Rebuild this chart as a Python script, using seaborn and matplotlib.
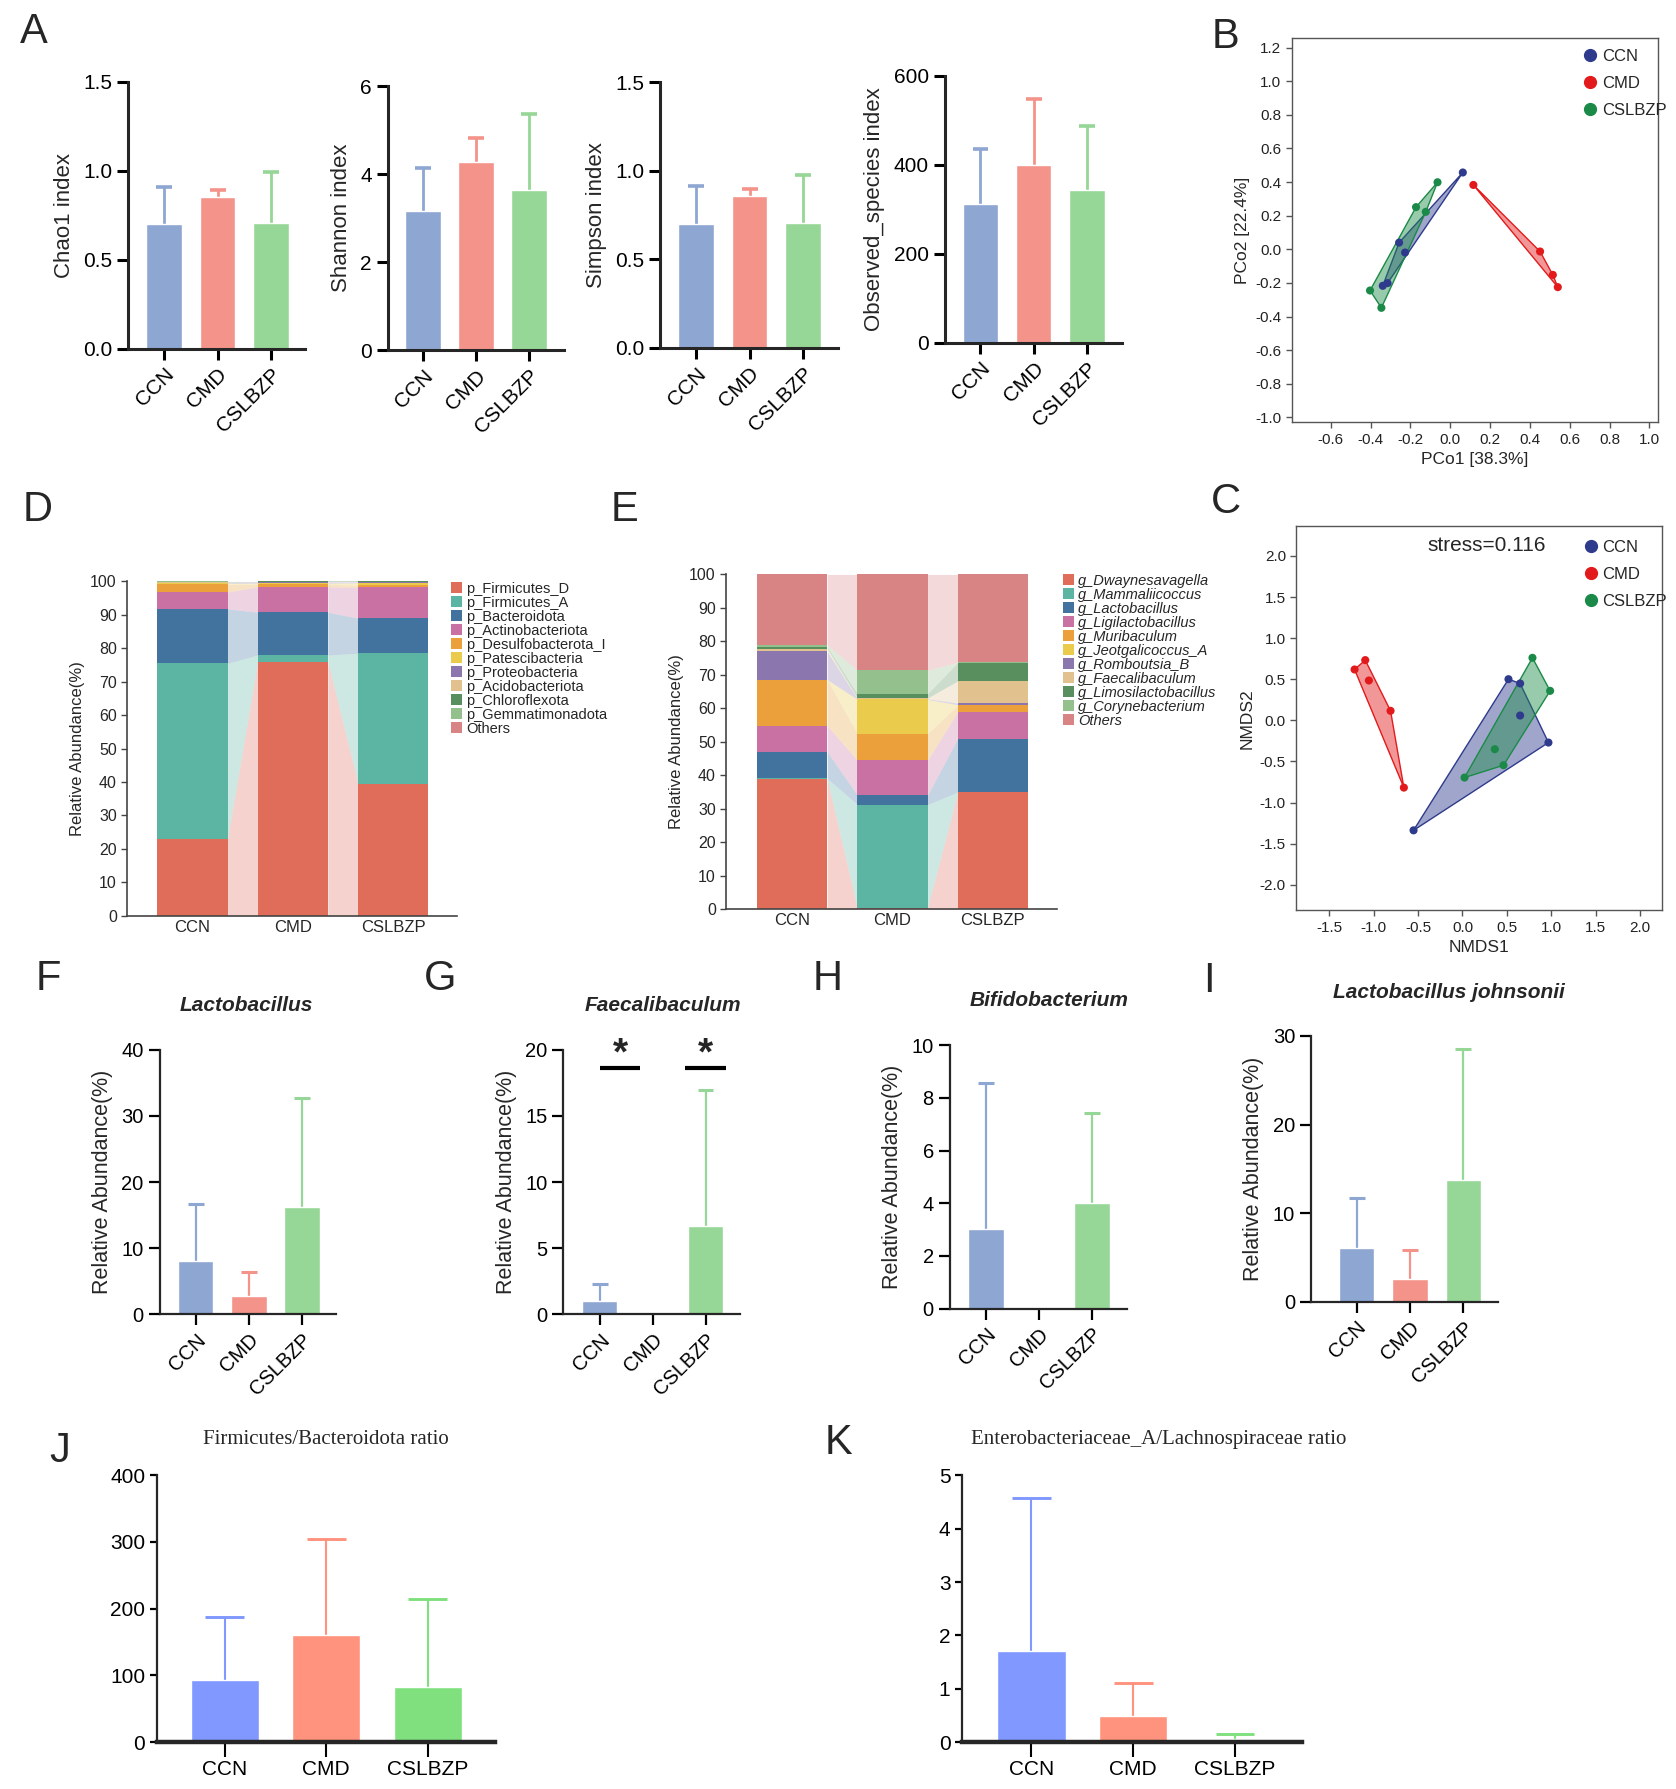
import numpy as np
import pandas as pd
import matplotlib
matplotlib.use('Agg')
import matplotlib.pyplot as plt
from matplotlib.patches import Patch, Polygon
from matplotlib.lines import Line2D
from matplotlib.colors import to_rgba
import seaborn as sns

# ---------------- data ----------------
groups = ['CCN', 'CMD', 'CSLBZP']

chao1_mean = [0.70, 0.853, 0.707]
chao1_upper = [0.906, 0.894, 0.99]
shannon_mean = [3.17, 4.27, 3.64]
shannon_upper = [4.13, 4.83, 5.37]
simpson_mean = [0.701, 0.856, 0.705]
simpson_upper = [0.912, 0.897, 0.978]
observed_mean = [311, 400, 343]
observed_upper = [435, 548, 488]

lacto_mean = [8.0, 2.82, 16.2]
lacto_upper = [16.75, 6.44, 32.7]
faecali_mean = [1.0, 0.0, 6.64]
faecali_upper = [2.26, 0.0, 16.98]
bifido_mean = [3.03, 0.04, 4.0]
bifido_upper = [8.57, 0.04, 7.41]
johnsonii_mean = [6.05, 2.52, 13.8]
johnsonii_upper = [11.77, 5.9, 28.53]

fb_ratio_mean = [93, 161, 82]
fb_ratio_upper = [187.5, 304, 214]
el_ratio_mean = [1.71, 0.49, 0.06]
el_ratio_upper = [4.57, 1.11, 0.15]

phylum_names = ['p_Firmicutes_D', 'p_Firmicutes_A', 'p_Bacteroidota', 'p_Actinobacteriota',
                'p_Desulfobacterota_I', 'p_Patescibacteria', 'p_Proteobacteria',
                'p_Acidobacteriota', 'p_Chloroflexota', 'p_Gemmatimonadota', 'Others']
phylum_ccn = [23.0, 52.5, 16.3, 5.0, 2.3, 0.3, 0.2, 0.1, 0.2, 0.1, 0.0]
phylum_cmd = [76.0, 2.0, 12.8, 7.6, 0.8, 0.3, 0.4, 0.05, 0.05, 0.0, 0.0]
phylum_cslbzp = [39.5, 39.0, 10.5, 9.2, 0.6, 0.8, 0.3, 0.05, 0.05, 0.0, 0.0]

genus_names = ['g_Dwaynesavagella', 'g_Mammaliicoccus', 'g_Lactobacillus', 'g_Ligilactobacillus',
               'g_Muribaculum', 'g_Jeotgalicoccus_A', 'g_Romboutsia_B', 'g_Faecalibaculum',
               'g_Limosilactobacillus', 'g_Corynebacterium', 'Others']
genus_ccn = [38.8, 0.3, 7.9, 7.8, 13.7, 0.1, 8.4, 0.8, 0.6, 0.5, 21.1]
genus_cmd = [0.3, 31.0, 2.8, 10.4, 8.0, 10.2, 0.2, 0.2, 1.3, 7.0, 28.6]
genus_cslbzp = [35.0, 0.0, 16.0, 8.0, 1.9, 0.2, 0.5, 6.6, 5.5, 0.1, 26.2]

pcoa_x = {'CCN': [0.063, -0.257, -0.227, -0.339, -0.315],
          'CMD': [0.116, 0.451, 0.515, 0.540],
          'CSLBZP': [-0.064, -0.172, -0.123, -0.403, -0.346]}
pcoa_y = {'CCN': [0.457, 0.040, -0.019, -0.217, -0.201],
          'CMD': [0.383, -0.013, -0.152, -0.225],
          'CSLBZP': [0.399, 0.251, 0.223, -0.245, -0.348]}

nmds_x = {'CCN': [-0.551, 0.518, 0.649, 0.649, 0.968],
          'CMD': [-1.215, -1.095, -1.054, -0.810, -0.660],
          'CSLBZP': [0.788, 0.987, 0.364, 0.462, 0.023]}
nmds_y = {'CCN': [-1.338, 0.501, 0.449, 0.059, -0.270],
          'CMD': [0.619, 0.733, 0.485, 0.116, -0.818],
          'CSLBZP': [0.761, 0.359, -0.351, -0.546, -0.696]}

# ---------------- style ----------------
bar_colors = ['#8EA6D2', '#F3938A', '#96D696']
ratio_colors = ['#8098FF', '#FF937D', '#80E07E']
ord_colors = ['#2E3A8C', '#E31A1C', '#1B8A48']
taxa_colors = ['#E06C5A', '#5BB5A2', '#42739F', '#C971A3', '#EBA03C', '#EBCB4B',
               '#8B77AD', '#E1C28F', '#598F5E', '#94C08E', '#D88384']

sns.set_style('ticks')
plt.rcParams['font.family'] = ['Liberation Sans', 'DejaVu Sans']
plt.rcParams['axes.unicode_minus'] = True

fig = plt.figure(figsize=(16.76, 17.89), dpi=100)
W, H = 1470.0, 1568.0


def box(l, t, r, b):
    return [l / W, 1 - b / H, (r - l) / W, (b - t) / H]


def bar_panel(ax, means, uppers, colors, xlim, ylim, yticks, ylabel='', fs=15,
              spine_w=2.2, rot=45, cap=0.15, elw=2.0):
    df = pd.DataFrame({'group': groups, 'value': means})
    sns.barplot(data=df, x='group', y='value', hue='group', order=groups, hue_order=groups,
                palette=colors, width=0.67, saturation=1, legend=False, errorbar=None,
                ax=ax, zorder=2)
    for i, (m, u) in enumerate(zip(means, uppers)):
        if u > m:
            ax.vlines(i, m, u, colors=colors[i], lw=elw, zorder=1)
            ax.hlines(u, i - cap, i + cap, colors=colors[i], lw=elw + 0.6, zorder=1)
    ax.set_xlim(xlim)
    ax.set_ylim(ylim)
    ax.set_yticks(yticks)
    ax.set_xlabel('')
    ax.set_ylabel(ylabel, fontsize=fs + 1, labelpad=6)
    sns.despine(ax=ax)
    for s in ['left', 'bottom']:
        ax.spines[s].set_linewidth(spine_w)
    ax.tick_params(width=spine_w, length=8, labelsize=fs, colors='black')
    if rot:
        plt.setp(ax.get_xticklabels(), rotation=rot, ha='right', rotation_mode='anchor')


def letter(x, y, s):
    fig.text(x / W, 1 - y / H, s, fontsize=30, ha='center', va='center')


# ---------------- A: alpha diversity ----------------
ax = fig.add_axes(box(112.7, 71.6, 267.5, 305.5))
bar_panel(ax, chao1_mean, chao1_upper, bar_colors, (-0.665, 2.635), (0, 1.5), [0, 0.5, 1.0, 1.5], 'Chao1 index')
ax.set_yticklabels(['0.0', '0.5', '1.0', '1.5'])
ax = fig.add_axes(box(340, 75.4, 494.7, 307))
bar_panel(ax, shannon_mean, shannon_upper, bar_colors, (-0.667, 2.66), (0, 6), [0, 2, 4, 6], 'Shannon index')
ax = fig.add_axes(box(579, 72.2, 734.6, 305))
bar_panel(ax, simpson_mean, simpson_upper, bar_colors, (-0.675, 2.65), (0, 1.5), [0, 0.5, 1.0, 1.5], 'Simpson index')
ax.set_yticklabels(['0.0', '0.5', '1.0', '1.5'])
ax = fig.add_axes(box(828.6, 66.4, 984, 300.3))
bar_panel(ax, observed_mean, observed_upper, bar_colors, (-0.673, 2.66), (0, 600), [0, 200, 400, 600], 'Observed_species index')
letter(30, 28, 'A')


# ---------------- B / C: ordination ----------------
def convex_hull(xs, ys):
    pts = sorted(set(zip(xs, ys)))
    if len(pts) < 3:
        return pts

    def cross(o, a, b):
        return (a[0] - o[0]) * (b[1] - o[1]) - (a[1] - o[1]) * (b[0] - o[0])
    lower, upper = [], []
    for p in pts:
        while len(lower) >= 2 and cross(lower[-2], lower[-1], p) <= 0:
            lower.pop()
        lower.append(p)
    for p in reversed(pts):
        while len(upper) >= 2 and cross(upper[-2], upper[-1], p) <= 0:
            upper.pop()
        upper.append(p)
    return lower[:-1] + upper[:-1]


def ord_panel(ax, xs, ys, xlim, ylim, xticks, yticks, xlabel, ylabel, leg_x, leg_y):
    rows = []
    for g in groups:
        for a, b in zip(xs[g], ys[g]):
            rows.append({'group': g, 'x': a, 'y': b})
    df = pd.DataFrame(rows)
    for g, c in zip(groups, ord_colors):
        hull = convex_hull(xs[g], ys[g])
        ax.add_patch(Polygon(hull, closed=True, facecolor=to_rgba(c, 0.45), edgecolor=c, lw=1.0, zorder=1))
    sns.scatterplot(data=df, x='x', y='y', hue='group', palette=ord_colors, s=34, edgecolor='none',
                    legend=False, ax=ax, zorder=3)
    ax.set_xlim(xlim)
    ax.set_ylim(ylim)
    ax.set_xticks(xticks)
    ax.set_yticks(yticks)
    ax.set_xticklabels(['%.1f' % v for v in xticks])
    ax.set_yticklabels(['%.1f' % v for v in yticks])
    ax.set_xlabel(xlabel, fontsize=12.5)
    ax.set_ylabel(ylabel, fontsize=12.5)
    for s in ax.spines.values():
        s.set_color('#555555')
        s.set_linewidth(1.0)
    ax.tick_params(labelsize=11, length=4, width=1, color='#555555', colors='#222222')
    handles = [Line2D([0], [0], marker='o', ls='', color=c, markersize=8.5) for c in ord_colors]
    ax.legend(handles, groups, loc='upper left', bbox_to_anchor=(leg_x, leg_y), frameon=False,
              fontsize=12, handletextpad=0.2, labelspacing=0.72, borderpad=0, handlelength=1.0)


ax = fig.add_axes(box(1133, 33.6, 1454, 370))
ord_panel(ax, pcoa_x, pcoa_y, (-0.796, 1.042), (-1.028, 1.255),
          [-0.6, -0.4, -0.2, 0.0, 0.2, 0.4, 0.6, 0.8, 1.0],
          [-1.0, -0.8, -0.6, -0.4, -0.2, 0.0, 0.2, 0.4, 0.6, 0.8, 1.0, 1.2],
          'PCo1 [38.3%]', 'PCo2 [22.4%]', 0.77, 0.995)
letter(1075, 32, 'B')

ax = fig.add_axes(box(1137, 461, 1457.5, 798))
ord_panel(ax, nmds_x, nmds_y, (-1.871, 2.244), (-2.313, 2.365),
          [-1.5, -1.0, -0.5, 0.0, 0.5, 1.0, 1.5, 2.0],
          [-2.0, -1.5, -1.0, -0.5, 0.0, 0.5, 1.0, 1.5, 2.0],
          'NMDS1', 'NMDS2', 0.76, 0.985)
ax.text(0.521, 0.95, 'stress=0.116', transform=ax.transAxes, ha='center', va='center', fontsize=15)
letter(1075, 440, 'C')


# ---------------- D / E: stacked composition ----------------
def stack_panel(ax, names, values, xlim, leg_anchor, italic=False):
    arr = np.array(values, dtype=float)
    cum = np.cumsum(arr, axis=1)
    low = cum - arr
    w = 0.7
    for k in range(arr.shape[1]):
        ax.bar(range(3), arr[:, k], bottom=low[:, k], width=w, color=taxa_colors[k], lw=0, zorder=2)
        for i in range(2):
            xs = [i + w / 2, i + 1 - w / 2]
            ax.fill_between(xs, [low[i, k], low[i + 1, k]], [cum[i, k], cum[i + 1, k]],
                            color=taxa_colors[k], alpha=0.3, lw=0, zorder=1)
    ax.set_xlim(xlim)
    ax.set_ylim(0, 100)
    ax.set_yticks(range(0, 101, 10))
    ax.set_xticks(range(3))
    ax.set_xticklabels(groups)
    ax.set_ylabel('Relative Abundance(%)', fontsize=12)
    sns.despine(ax=ax)
    for s in ['left', 'bottom']:
        ax.spines[s].set_color('#444444')
        ax.spines[s].set_linewidth(1.2)
    ax.tick_params(axis='y', labelsize=11.5, length=4, width=1, color='#444444')
    ax.tick_params(axis='x', labelsize=12, length=0, pad=3)
    handles = [Patch(facecolor=c, edgecolor='none') for c in taxa_colors]
    prop = {'size': 10.5, 'style': 'italic'} if italic else {'size': 10.5}
    fig.legend(handles, names, loc='upper left', bbox_to_anchor=leg_anchor, frameon=False,
               prop=prop, labelspacing=0.0, handlelength=0.75, handleheight=0.75,
               handletextpad=0.3, borderpad=0, borderaxespad=0)


ax = fig.add_axes(box(111.6, 509.6, 401, 802.6))
stack_panel(ax, phylum_names, [phylum_ccn, phylum_cmd, phylum_cslbzp], (-0.65, 2.64), (395.6 / W, 1 - 510 / H))
letter(33, 447, 'D')

ax = fig.add_axes(box(637, 503.5, 927, 797))
stack_panel(ax, genus_names, [genus_ccn, genus_cmd, genus_cslbzp], (-0.657, 2.64), (932 / W, 1 - 503 / H), italic=True)
letter(548, 447, 'E')

# ---------------- F-I: genus abundance ----------------
ax = fig.add_axes(box(140, 920, 295, 1152))
bar_panel(ax, lacto_mean, lacto_upper, bar_colors, (-0.68, 2.65), (0, 40), [0, 10, 20, 30, 40],
          'Relative Abundance(%)', fs=14.5, spine_w=1.6, elw=1.6)
fig.text(216 / W, 1 - 881 / H, 'Lactobacillus', fontsize=15, fontweight='bold', style='italic', ha='center', va='center')
letter(42, 858, 'F')

ax = fig.add_axes(box(494, 920, 649, 1152))
bar_panel(ax, faecali_mean, faecali_upper, bar_colors, (-0.69, 2.65), (0, 20), [0, 5, 10, 15, 20],
          'Relative Abundance(%)', fs=14.5, spine_w=1.6, elw=1.6)
sig_lines = [(0.0, 0.77), (1.61, 2.39)]
for a, b in sig_lines:
    ax.hlines(18.6, a, b, colors='black', lw=3, clip_on=False)
    ax.text((a + b) / 2, 18.3, '*', fontsize=28, fontweight='bold', ha='center', va='bottom', clip_on=False)
fig.text(581 / W, 1 - 881 / H, 'Faecalibaculum', fontsize=15, fontweight='bold', style='italic', ha='center', va='center')
letter(386, 858, 'G')

ax = fig.add_axes(box(833, 916, 988.4, 1147))
bar_panel(ax, bifido_mean, bifido_upper, bar_colors, (-0.68, 2.66), (0, 10), [0, 2, 4, 6, 8, 10],
          'Relative Abundance(%)', fs=14.5, spine_w=1.6, elw=1.6)
fig.text(920 / W, 1 - 877 / H, 'Bifidobacterium', fontsize=15, fontweight='bold', style='italic', ha='center', va='center')
letter(726, 858, 'H')

ax = fig.add_axes(box(1150, 908, 1314, 1141))
bar_panel(ax, johnsonii_mean, johnsonii_upper, bar_colors, (-0.85, 2.65), (0, 30), [0, 10, 20, 30],
          'Relative Abundance(%)', fs=14.5, spine_w=1.6, elw=1.6)
fig.text(1271 / W, 1 - 870 / H, 'Lactobacillus johnsonii', fontsize=15, fontweight='bold', style='italic', ha='center', va='center')
letter(1060, 860, 'I')


# ---------------- J / K: ratios ----------------
def ratio_panel(ax, means, uppers, xlim, ylim, yticks):
    bar_panel(ax, means, uppers, ratio_colors, xlim, ylim, yticks, '', fs=15, spine_w=1.6,
              rot=0, cap=0.19, elw=1.5)
    ax.spines['bottom'].set_linewidth(3.2)
    ax.tick_params(axis='x', length=11, width=1.5, pad=2)
    ax.tick_params(axis='y', length=5, width=1.6)


ax = fig.add_axes(box(137.8, 1293, 434, 1527))
ratio_panel(ax, fb_ratio_mean, fb_ratio_upper, (-0.665, 2.66), (0, 400), [0, 100, 200, 300, 400])
fig.text(286 / W, 1 - 1262 / H, 'Firmicutes/Bacteroidota ratio', fontsize=15,
         family=['Liberation Serif', 'DejaVu Serif'], ha='center', va='center')
letter(52, 1272, 'J')

ax = fig.add_axes(box(844, 1293, 1142, 1527))
ratio_panel(ax, el_ratio_mean, el_ratio_upper, (-0.68, 2.66), (0, 5), [0, 1, 2, 3, 4, 5])
fig.text(1016 / W, 1 - 1262 / H, 'Enterobacteriaceae_A/Lachnospiraceae ratio', fontsize=15,
         family=['Liberation Serif', 'DejaVu Serif'], ha='center', va='center')
letter(735, 1265, 'K')

fig.savefig('out.png', dpi=100)
